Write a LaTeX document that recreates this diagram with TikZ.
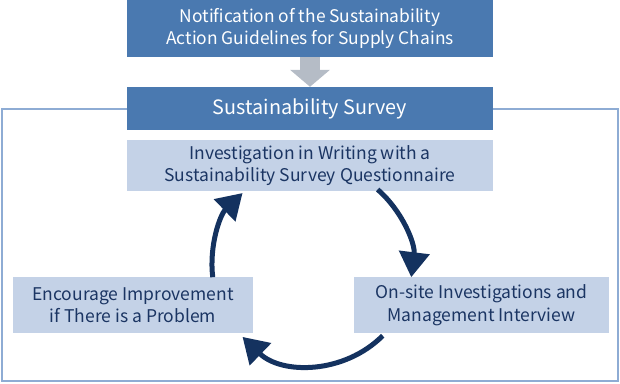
\documentclass[tikz,border=0pt]{standalone}
\usepackage{fontspec}
\setmainfont{Noto Sans CJK JP}
\usetikzlibrary{arrows.meta,calc}
\definecolor{darkbox}{HTML}{4A79B0}
\definecolor{lightbox}{HTML}{C4D2E7}
\definecolor{navy}{HTML}{1B3563}
\definecolor{arrowc}{HTML}{14325F}
\definecolor{greyarrow}{HTML}{B5BCC6}
\definecolor{framec}{HTML}{8EACD4}
\tikzset{
  darkstep/.style={fill=darkbox, text=white, inner sep=0pt, align=center, font=\fontsize{17.4}{22.5}\selectfont},
  lightstep/.style={fill=lightbox, text=navy, inner sep=0pt, align=center, font=\fontsize{17.5}{22.5}\selectfont},
  cyclearrow/.style={draw=arrowc, line width=5pt, -{Triangle[width=30pt,length=25pt]}},
}
\begin{document}
\begin{tikzpicture}[x=1pt,y=1pt]
\useasboundingbox (0,0) rectangle (620,383);
\draw[framec, line width=2pt] (2,2) rectangle (618,274);
\node[darkstep, minimum width=366pt, minimum height=57pt] (notif) at (310,354.5)
  {Notification of the Sustainability\\Action Guidelines for Supply Chains};
\node[darkstep, minimum width=366pt, minimum height=43pt, font=\fontsize{19.8}{22}\selectfont] (survey) at (310,274.5)
  {Sustainability Survey};
\node[lightstep, minimum width=366pt, minimum height=51pt] (quest) at (310,217.5)
  {Investigation in Writing with a\\Sustainability Survey Questionnaire};
\node[lightstep, minimum width=240pt, minimum height=56pt] (encourage) at (133,78)
  {Encourage Improvement\\if There is a Problem};
\node[lightstep, minimum width=255pt, minimum height=56pt] (onsite) at (481.5,78)
  {On-site Investigations and\\Management Interview};
\draw[greyarrow, line width=20pt, -{Triangle[width=39pt,length=17pt]}] (notif.south) -- (survey.north);
\coordinate (c) at (312,118);
\draw[cyclearrow] ($(c)+(49:100)$) arc[start angle=49, end angle=-7, radius=100];
\draw[cyclearrow] ($(c)+(-45:100)$) arc[start angle=-45, end angle=-134, radius=100];
\draw[cyclearrow] ($(c)+(187:100)$) arc[start angle=187, end angle=134, radius=100];
\end{tikzpicture}
\end{document}
